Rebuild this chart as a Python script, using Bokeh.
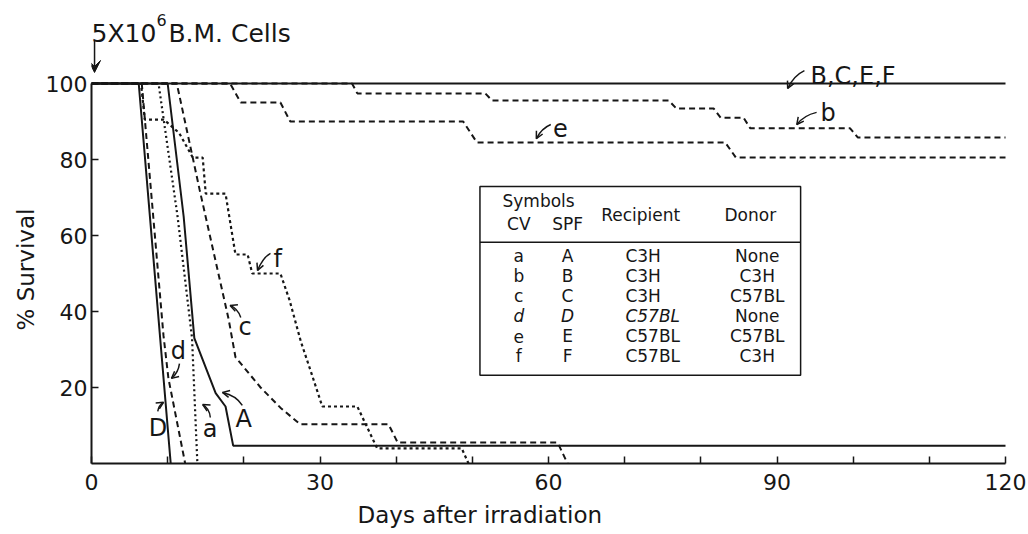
from bokeh.plotting import figure
from bokeh.models import Range1d, FixedTicker, Label, Arrow, OpenHead, VeeHead, BoxAnnotation, Title
from bokeh.embed import file_html
from bokeh.resources import INLINE

# ---- survival curves: days after irradiation vs % survival ----
days_BCEF = [0, 120]
surv_BCEF = [100, 100]

days_A = [0, 10.0, 12.1, 13.5, 16.3, 17.6, 18.6, 120]
surv_A = [100, 100, 65, 33, 18.5, 15, 4.7, 4.7]

days_D = [0, 6.2, 10.4]
surv_D = [100, 100, 0]

days_a = [0, 8.8, 11.3, 13.2, 13.9]
surv_a = [100, 100, 65, 33, 0]

days_b = [0, 34.2, 34.9, 51.7, 52.6, 75.8, 76.8, 81.7, 82.6, 85.6, 86.5, 99.6, 100.6, 120]
surv_b = [100, 100, 97.4, 97.4, 95.5, 95.5, 93.4, 93.4, 91.0, 91.0, 88.2, 88.2, 85.8, 85.8]

days_c = [0, 11.2, 14.2, 18.0, 18.9, 22.2, 24.8, 27.4, 39.0, 40.2, 61.2, 62.5]
surv_c = [100, 100, 72, 38, 28, 20, 14.7, 10.3, 10.3, 5.5, 5.5, 0]

days_d = [0, 6.6, 9.45, 10.1, 12.3]
surv_d = [100, 100, 33.7, 22.4, 0]

days_e = [0, 18.2, 19.6, 24.8, 26.1, 48.8, 50.6, 83.2, 84.6, 120]
surv_e = [100, 100, 95, 95, 90, 90, 84.5, 84.5, 80.5, 80.5]

days_f = [0, 6.5, 7.0, 9.5, 11.5, 13.3, 14.6, 15.0, 17.6, 18.9, 20.5, 21.1, 24.8,
          26.0, 27.5, 29.0, 30.3, 34.9, 37.5, 48.6, 49.5]
surv_f = [100, 100, 90.5, 90.5, 87, 80.5, 80.5, 71, 71, 55, 55, 50, 50,
          43, 32, 23, 15, 15, 4, 4, 0]

# ---- axes ----
x_ticks = [0, 30, 60, 90, 120]
x_minor = [10, 20, 40, 50, 70, 80, 100, 110]
y_ticks = [20, 40, 60, 80, 100]

# ---- legend table ----
table_cv = ["a", "b", "c", "d", "e", "f"]
table_spf = ["A", "B", "C", "D", "E", "F"]
table_recipient = ["C3H", "C3H", "C3H", "C57BL", "C57BL", "C57BL"]
table_donor = ["None", "C3H", "C57BL", "None", "C57BL", "C3H"]

INK = "#161616"
FONT = "DejaVu Sans"

W, H = 1028, 534
LEFT, BOTTOM = 91, 71
PX_PER_DAY = 914 / 120.0
PX_PER_PCT = 3.8

p = figure(width=W, height=H, output_backend="svg", toolbar_location=None,
           x_range=Range1d(0, (W - LEFT) / PX_PER_DAY),
           y_range=Range1d(0, (H - BOTTOM) / PX_PER_PCT),
           min_border_left=LEFT, min_border_bottom=BOTTOM,
           min_border_top=0, min_border_right=0)
p.outline_line_color = None
p.xgrid.visible = False
p.ygrid.visible = False
p.background_fill_color = "white"
p.border_fill_color = "white"

for ax in (p.xaxis[0], p.yaxis[0]):
    ax.axis_line_color = INK
    ax.axis_line_width = 2
    ax.major_tick_line_color = INK
    ax.major_tick_line_width = 1.5
    ax.minor_tick_line_color = INK
    ax.minor_tick_line_width = 1.5
    ax.major_tick_out = 0
    ax.minor_tick_out = 0
    ax.major_label_text_font = FONT
    ax.major_label_text_font_size = "22px"
    ax.major_label_text_color = INK

p.xaxis[0].bounds = (0, 120)
p.xaxis[0].ticker = FixedTicker(ticks=x_ticks, minor_ticks=x_minor)
p.xaxis[0].major_tick_in = 7
p.xaxis[0].minor_tick_in = 7
p.xaxis[0].major_label_standoff = 10

p.yaxis[0].bounds = (0, 100)
p.yaxis[0].ticker = FixedTicker(ticks=y_ticks)
p.yaxis[0].major_tick_in = 7
p.yaxis[0].minor_tick_in = 0
p.yaxis[0].major_label_standoff = 4

# axis titles, placed beside the axes
p.add_layout(Title(text="Days after irradiation", align="left", offset=266,
                   text_font=FONT, text_font_size="23px", text_font_style="normal",
                   text_color=INK, standoff=14), "below")
p.add_layout(Title(text="% Survival", align="left", offset=133,
                   text_font=FONT, text_font_size="23px", text_font_style="normal",
                   text_color=INK, standoff=8), "left")

# ---- curves ----
solid = dict(line_color=INK, line_width=2)
p.line(days_BCEF, surv_BCEF, **solid)
p.line(days_A, surv_A, **solid)
p.line(days_D, surv_D, **solid)
p.line(days_a, surv_a, line_color=INK, line_width=2.2, line_dash="2 3")
p.line(days_f, surv_f, line_color=INK, line_width=2.2, line_dash="3 3")
for xs, ys in ((days_b, surv_b), (days_c, surv_c), (days_d, surv_d), (days_e, surv_e)):
    p.line(xs, ys, line_color=INK, line_width=2, line_dash="6 4")


def put(text, x, y, size="24px", align="left", baseline="middle", style="normal"):
    p.add_layout(Label(x=x, y=y, text=text, text_font=FONT, text_font_size=size,
                       text_color=INK, text_align=align, text_baseline=baseline,
                       text_font_style=style))


def curl(x0, y0, cx, cy, x1, y1):
    p.quadratic(x0=[x0], y0=[y0], cx=[cx], cy=[cy], x1=[x1], y1=[y1],
                line_color=INK, line_width=1.5)
    p.add_layout(Arrow(end=OpenHead(size=7, line_color=INK, line_width=1.5),
                       x_start=cx, y_start=cy, x_end=x1, y_end=y1,
                       line_alpha=0))


# curve labels with hooked arrows
put("B,C,E,F", 94.4, 102.1)
curl(93.6, 103.4, 92.2, 102.1, 91.4, 98.7)
put("b", 95.7, 92.3)
curl(95.2, 92.4, 93.5, 91.6, 92.6, 89.2)
put("e", 60.6, 88.4)
curl(60.3, 89.2, 59.1, 88.2, 58.4, 85.5)
put("f", 23.9, 53.7)
curl(23.5, 55.3, 22.5, 54.2, 21.8, 50.8)
put("c", 19.3, 35.8)
curl(19.6, 38.4, 19.2, 40.8, 18.2, 41.6)
put("d", 10.4, 29.7)
curl(11.55, 26.3, 11.4, 23.9, 10.5, 22.4)
put("D", 7.5, 9.3)
curl(8.7, 13.7, 8.8, 15.3, 9.45, 16.1)
put("a", 14.6, 9.2)
curl(15.6, 12.1, 15.5, 14.5, 14.6, 15.5)
put("A", 18.9, 11.6)
curl(19.8, 15.3, 19.0, 17.9, 17.2, 18.7)

# bone-marrow injection marker
put("5X10", 0.0, 113.2, size="25px", baseline="alphabetic")
put("6", 8.55, 116.6, size="16px", baseline="alphabetic")
put("B.M. Cells", 10.1, 113.2, size="25px", baseline="alphabetic")
p.add_layout(Arrow(end=VeeHead(size=12, fill_color=INK, line_color=INK),
                   x_start=0.4, y_start=111.3, x_end=0.4, y_end=102.9,
                   line_color=INK, line_width=1.5))

# ---- legend table ----
p.add_layout(BoxAnnotation(left=51.0, right=93.1, bottom=23.2, top=72.9,
                           fill_alpha=0, line_color=INK, line_alpha=1.0,
                           line_width=1.5))
p.segment(x0=[51.0], y0=[58.2], x1=[93.1], y1=[58.2], line_color=INK, line_width=1.5)

put("Symbols", 58.7, 69.2, size="17px", align="center")
put("CV", 56.1, 62.9, size="17px", align="center")
put("SPF", 62.5, 62.9, size="17px", align="center")
put("Recipient", 72.1, 65.3, size="17px", align="center")
put("Donor", 86.5, 65.3, size="17px", align="center")

row_y = [54.7, 49.4, 44.1, 38.8, 33.5, 28.2]
for i, yy in enumerate(row_y):
    sty = "italic" if table_cv[i] == "d" else "normal"
    put(table_cv[i], 56.1, yy, size="17px", align="center", style=sty)
    put(table_spf[i], 62.5, yy, size="17px", align="center", style=sty)
    put(table_recipient[i], 70.1, yy, size="17px", align="left",
        style="italic" if i == 3 else "normal")
    put(table_donor[i], 87.4, yy, size="17px", align="center")

open("out.html", "w").write(file_html(p, INLINE))
